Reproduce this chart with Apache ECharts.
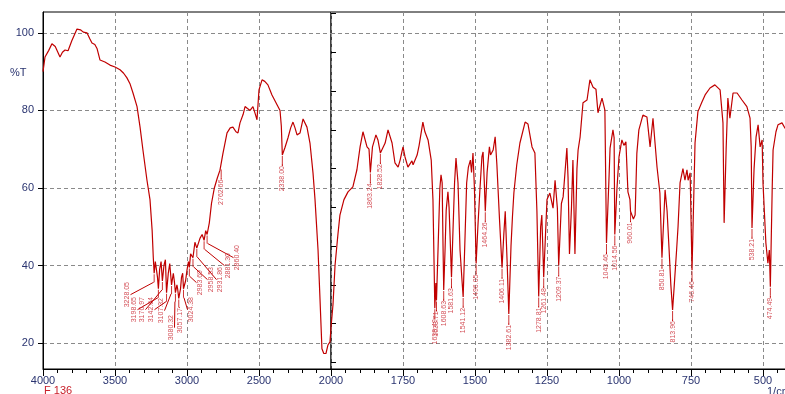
<!DOCTYPE html>
<html>
<head>
<meta charset="utf-8">
<script src="https://cdn.jsdelivr.net/npm/echarts@6/dist/echarts.min.js"></script>
<style>
  html, body { margin: 0; padding: 0; background: #fff; }
  #chart { width: 785px; height: 394px; }
</style>
</head>
<body>
<div id="chart"></div>
<script>
// spectrum, 4000 - 2000 1/cm (left panel)
const wnHigh = [4000, 3986, 3960, 3938, 3915, 3882, 3865, 3847, 3826, 3800, 3764, 3740, 3720, 3694, 3675, 3660, 3640, 3625, 3604, 3570,
  3535, 3500, 3465, 3440, 3417, 3395, 3375, 3347, 3326, 3306, 3278, 3257, 3242, 3234, 3228.05, 3220, 3212, 3205, 3198.65, 3190,
  3180, 3170.97, 3160, 3150, 3142.04, 3130, 3120, 3107.32, 3095, 3088, 3080.32, 3070, 3065, 3057.17, 3045, 3038, 3030, 3024.38, 3010, 3000,
  2990, 2983.69, 2975, 2958.53, 2945, 2931.86, 2910, 2895, 2881.30, 2870, 2860.40, 2845, 2830, 2810, 2790, 2771, 2762.66, 2750, 2722, 2700,
  2681, 2660, 2646, 2632, 2610, 2597, 2580, 2562, 2542, 2525, 2514, 2500, 2479, 2460, 2438, 2410, 2382, 2354, 2345, 2338,
  2319, 2299, 2280, 2264, 2250, 2236, 2215, 2194, 2167, 2146, 2125, 2111, 2090, 2076, 2063, 2050, 2035, 2021, 2007, 2000];
const tHigh = [90, 93.8, 95.5, 97.2, 96.5, 93.8, 95, 95.6, 95.4, 98, 101, 100.8, 100.2, 100, 98.5, 97.4, 97, 96, 93, 92.5,
  91.7, 91.2, 90.5, 89.6, 88.4, 86.8, 84.5, 81, 75.7, 69.8, 62, 57, 49, 42, 38, 41, 40.5, 37, 34, 39,
  41, 36, 40, 41.5, 33, 38, 40.5, 35, 38, 36, 33, 35, 34, 31.5, 34, 37, 38, 34, 36, 38.8,
  41, 39.5, 43, 42, 46, 44.5, 47, 48, 46.5, 49, 48, 51, 56, 60, 62.5, 64.6, 65, 69, 74.2, 75.5,
  75.7, 74.5, 74.2, 76.8, 79, 81, 80.5, 80, 81, 79, 77.6, 85.3, 87.9, 87.5, 86.6, 84, 82, 80, 76, 68.5,
  70.5, 72.9, 75.5, 77, 75.5, 73.7, 74.2, 77.8, 75.7, 71.6, 63.9, 57, 44, 31, 18.5, 17.3, 17.3, 19.5, 20.3, 24];

// spectrum, 2000 - 410 1/cm (right panel)
const wnLow = [2000, 1993, 1986, 1976, 1969, 1955, 1941, 1924, 1910, 1899, 1889, 1875, 1868, 1863.24, 1856, 1844, 1837, 1828.52, 1812, 1802,
  1788, 1778, 1767, 1760, 1750, 1743, 1733, 1719, 1715, 1701, 1694, 1681, 1674, 1663, 1652, 1646, 1642, 1639.49, 1636, 1633.71,
  1628, 1622, 1618, 1614, 1611, 1608.63, 1604, 1600, 1594, 1590, 1581.63, 1576, 1571, 1566, 1559, 1552, 1545, 1541.12, 1536, 1529,
  1523, 1516, 1512, 1507, 1502, 1496.05, 1490, 1483, 1476, 1472, 1468, 1464.26, 1458, 1450, 1446, 1437, 1430, 1424, 1415, 1406.11,
  1400, 1395, 1388, 1382.61, 1375, 1370, 1365, 1355, 1344, 1326, 1316, 1302, 1292, 1285, 1278.81, 1272, 1268, 1261.48, 1250, 1240,
  1229, 1222, 1214, 1209.37, 1200, 1194, 1181, 1177, 1172, 1165, 1160, 1153, 1146, 1142, 1135, 1125, 1111, 1101, 1090, 1080,
  1073, 1059, 1049, 1043.46, 1035, 1031, 1021, 1017, 1014.56, 1007, 1000, 990, 983, 976, 969, 962, 960.01, 950, 944, 938,
  931, 917, 903, 892, 882, 868, 858, 850.81, 840, 833, 826, 820, 813.96, 808, 800, 795, 788, 778, 771, 764,
  760, 753, 746.46, 736, 726, 712, 701, 684, 667, 649, 639, 635, 628, 622, 615, 604, 590, 573, 556, 545,
  541, 538.21, 531, 524, 517, 510, 503, 500, 490, 483, 478, 474.49, 468, 465, 455, 448, 434, 424, 410];
const tLow = [24, 30, 40, 48, 53, 57, 59, 60.3, 64.7, 70.6, 74.5, 70.6, 70, 64, 70.6, 73.7, 72.4, 69, 71.6, 75,
  71.6, 66.5, 65.4, 67.2, 70.6, 68, 65.4, 67, 66, 68.5, 71, 77, 74.5, 72.4, 67.2, 57, 40, 29, 35.5, 31,
  45, 60, 63.4, 61.3, 45, 33.7, 44, 54.3, 59, 55, 37, 50, 61.3, 67.7, 61.3, 44, 36, 31.9, 44, 61.3,
  65.4, 67.2, 64, 69, 60, 40.5, 50, 59.5, 68, 69.3, 62, 54, 64, 70.6, 68.5, 69.8, 73.2, 66, 52, 39.4,
  48, 54, 40, 27.5, 45, 52.5, 58.7, 66, 71.6, 77, 76.5, 70.6, 69, 54, 32, 50, 53, 37, 57, 58.7,
  54.8, 62, 54.8, 40, 56, 57.7, 70.3, 62.8, 43, 55, 67.2, 43, 65, 69.8, 73.2, 82, 82.7, 87.9, 86, 85.5,
  79.4, 83.2, 80.1, 45.8, 62, 70.3, 75, 73, 48, 60, 68, 72.4, 71, 71.9, 59, 57, 54, 52, 53, 69,
  75, 78.8, 78.3, 70.6, 78, 65.4, 58.7, 42, 59.5, 54, 44, 35, 28.5, 35, 44, 50, 61.3, 65, 62, 64.7,
  62, 63.9, 38.8, 71.6, 79.7, 82.2, 84, 85.8, 86.6, 85.3, 76.8, 51, 70, 83.2, 78, 84.5, 84.5, 82.7, 81, 78,
  70.6, 49.7, 65, 73.2, 76.3, 70.6, 72.4, 61.3, 45.8, 40.6, 44, 34.5, 60, 69.8, 74.5, 76.3, 76.8, 75.5, 74];

// picked peaks
const peakWn = [3228.05, 3198.65, 3170.97, 3142.04, 3107.32, 3080.32, 3057.17, 3024.38, 2983.69, 2958.53, 2931.86, 2881.30, 2860.40,
  2762.66, 2338.00, 1863.24, 1828.52, 1639.49, 1633.71, 1608.63, 1581.63, 1541.12, 1496.05, 1464.26, 1406.11, 1382.61,
  1278.81, 1261.48, 1209.37, 1043.46, 1014.56, 960.01, 850.81, 813.96, 746.46, 538.21, 474.49];
const peakT = [38, 34, 36, 33, 35, 33, 31.5, 34, 39.5, 42, 44.5, 46.5, 48,
  65, 68.5, 64, 69, 29, 31, 33.7, 37, 31.9, 40.5, 54, 39.4, 27.5,
  32, 37, 40, 45.8, 48, 54, 42, 28.5, 38.8, 49.7, 34.5];

const yMajor = [20, 40, 60, 80, 100];
const yMinor = [15, 25, 35, 45, 55, 65, 75, 85, 95, 105];

const axisColor = '#2a3470';
const lineColor = '#c00000';
const labelColor = '#c8202a';

// where the crowded C-H labels are pulled out to (pixel x of text, pixel y of text top)
const clusterLabelPos = [[127, 282], [134, 297], [142, 297], [151, 297], [161, 298], [171, 315], [180, 308],
  [191, 297], [200, 270], [211, 267], [220, 267], [228, 253], [237, 245]];

function pairs(xs, ys) {
    return xs.map((x, i) => [x, ys[i]]);
}

function peakData(fromHigh) {
    const out = [];
    for (let i = 0; i < peakWn.length; i++) {
        if ((peakWn[i] >= 2000) === fromHigh) {
            out.push([peakWn[i], peakT[i], peakWn[i].toFixed(2)]);
        }
    }
    return out;
}

function yAxes(gridIndex, showLabels) {
    return [{
        gridIndex: gridIndex,
        type: 'value',
        min: 13.3,
        max: 105.4,
        axisLine: { show: showLabels, lineStyle: { color: '#000' } },
        axisTick: { show: showLabels, length: 5, customValues: yMajor, lineStyle: { color: '#000' } },
        axisLabel: {
            show: showLabels, customValues: yMajor, color: axisColor,
            fontSize: 11, fontFamily: 'Liberation Sans', margin: 9
        },
        splitLine: { show: true, lineStyle: { color: '#8a8a8a', type: [4, 3] } }
    }, {
        gridIndex: gridIndex,
        type: 'value',
        min: 13.3,
        max: 105.4,
        show: showLabels,
        axisLine: { show: false },
        axisTick: { show: true, length: 5, customValues: yMinor, lineStyle: { color: '#000' } },
        axisLabel: { show: false },
        splitLine: { show: false }
    }];
}

function xAxis(gridIndex, min, max, interval, hide) {
    return {
        gridIndex: gridIndex,
        type: 'value',
        inverse: true,
        min: min,
        max: max,
        interval: interval,
        axisLine: { show: true, onZero: false, lineStyle: { color: '#000' } },
        axisTick: { show: true, length: 7, lineStyle: { color: '#000' } },
        minorTick: { show: true, splitNumber: 5, length: 4, lineStyle: { color: '#000' } },
        axisLabel: {
            color: axisColor, fontSize: 11, fontFamily: 'Liberation Sans', margin: 6,
            formatter: v => (hide.includes(v) ? '' : String(v))
        },
        splitLine: { show: true, lineStyle: { color: '#8a8a8a', type: [4, 3] } }
    };
}

function peakSeries(xIdx, yIdx, data, spread) {
    return {
        type: 'scatter',
        xAxisIndex: xIdx,
        yAxisIndex: yIdx,
        data: data,
        symbol: 'rect',
        symbolSize: [1, 8],
        symbolOffset: [0, 5],
        itemStyle: { color: lineColor },
        silent: true,
        z: 5,
        label: {
            show: true,
            position: 'bottom',
            distance: 2,
            rotate: 90,
            align: 'right',
            verticalAlign: 'middle',
            fontSize: 7,
            fontFamily: 'Liberation Sans',
            color: labelColor,
            formatter: p => p.data[2]
        },
        labelLine: { show: true, smooth: false, lineStyle: { color: lineColor, width: 1 } },
        labelLayout: function (params) {
            if (spread && params.dataIndex < clusterLabelPos.length) {
                const pos = clusterLabelPos[params.dataIndex];
                return { x: pos[0], y: pos[1] };
            }
            return {};
        }
    };
}

const chart = echarts.init(document.getElementById('chart'), null, { renderer: 'canvas' });

chart.setOption({
    animation: false,
    backgroundColor: '#fff',
    grid: [
        { left: 43, top: 12, width: 288, height: 357, show: true, borderColor: '#000', borderWidth: 1,
          outerBoundsMode: 'none', containLabel: false },
        { left: 331, top: 12, width: 504, height: 357, show: true, borderColor: '#000', borderWidth: 1,
          outerBoundsMode: 'none', containLabel: false }
    ],
    xAxis: [
        xAxis(0, 2000, 4000, 500, []),
        xAxis(1, 250, 2000, 250, [250, 2000])
    ],
    yAxis: [].concat(yAxes(0, true), yAxes(1, false)),
    graphic: [
        { type: 'text', left: 10, top: 67, style: { text: '%T', fill: axisColor, fontSize: 11, fontFamily: 'Liberation Sans' } },
        { type: 'text', left: 44, top: 385, style: { text: 'F 136', fill: labelColor, fontSize: 11, fontFamily: 'Liberation Sans' } },
        { type: 'text', left: 767, top: 386, style: { text: '1/cm', fill: axisColor, fontSize: 11, fontFamily: 'Liberation Sans' } }
    ],
    series: [
        {
            type: 'line', xAxisIndex: 0, yAxisIndex: 0, data: pairs(wnHigh, tHigh),
            showSymbol: false, symbol: 'none', clip: true,
            lineStyle: { color: lineColor, width: 1.2 }
        },
        {
            type: 'line', xAxisIndex: 1, yAxisIndex: 2, data: pairs(wnLow, tLow),
            showSymbol: false, symbol: 'none', clip: true,
            lineStyle: { color: lineColor, width: 1.2 }
        },
        peakSeries(0, 0, peakData(true), true),
        peakSeries(1, 2, peakData(false), false)
    ]
});
</script>
</body>
</html>
